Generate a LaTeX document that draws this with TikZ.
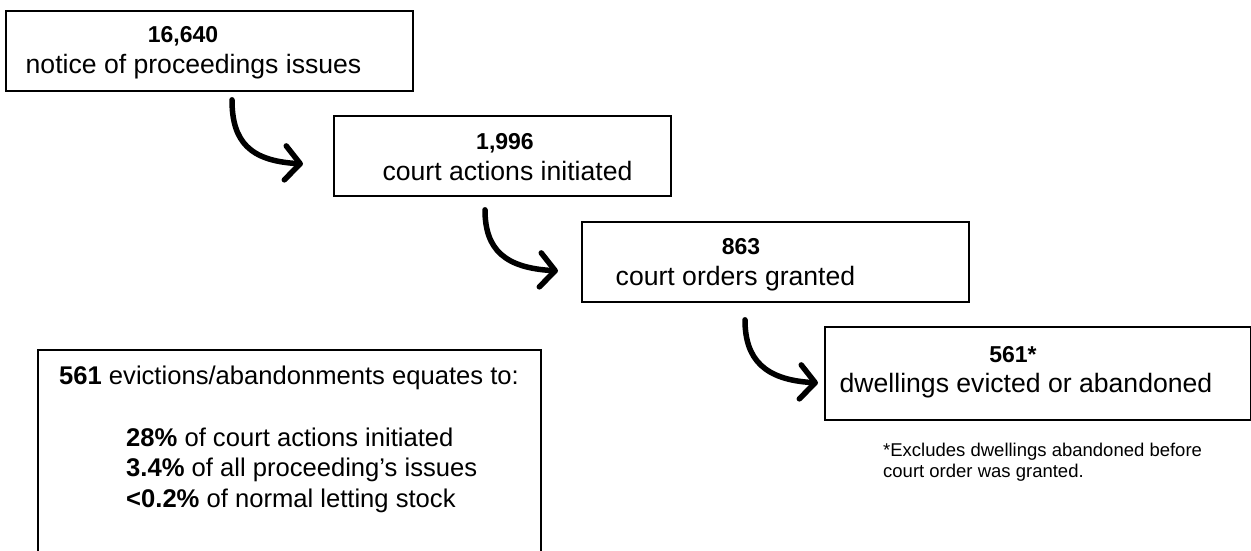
\documentclass[tikz,border=0pt]{standalone}
\usepackage{fontspec}
\setmainfont{Liberation Sans}
\usetikzlibrary{arrows.meta,calc}
\begin{document}
\begin{tikzpicture}[x=1pt,y=-1pt,
  box/.style={draw=black, line width=1.8pt, inner sep=0pt, anchor=north west},
  num/.style={anchor=base, inner sep=0pt, font=\fontsize{23}{27}\selectfont\bfseries},
  lbl/.style={anchor=base, inner sep=0pt, font=\fontsize{26.6}{30}\selectfont},
  sumtxt/.style={anchor=base west, inner sep=0pt, font=\fontsize{25.6}{30}\selectfont},
  note/.style={anchor=base west, inner sep=0pt, font=\fontsize{18.5}{21}\selectfont},
  flow/.style={line width=5.5pt, line cap=round, -{Straight Barb[length=15pt,width=34pt,round]}},
]
\useasboundingbox (0,0) rectangle (1251,551);
\clip (0,0) rectangle (1251,551);

% boxes
\node[box, minimum width=407pt, minimum height=80pt] (b1) at (5,10) {};
\node[box, minimum width=337pt, minimum height=80pt] (b2) at (333,115) {};
\node[box, minimum width=387pt, minimum height=80pt] (b3) at (581,221) {};
\node[box, minimum width=426pt, minimum height=93pt] (b4) at (824,326) {};
\node[box, minimum width=503pt, minimum height=250pt] (b5) at (37,349) {};

% box texts
\node[num] (n1) at (183,43) {16,640};
\node[lbl] (t1) at (193.5,74) {notice of proceedings issues};
\node[num] (n2) at (505,149.5) {1,996};
\node[lbl] (t2) at (507.5,180) {court actions initiated};
\node[num] (n3) at (741,254) {863};
\node[lbl] (t3) at (735.5,285) {court orders granted};
\node[num] (n4) at (1013,362) {561*};
\node[lbl] (t4) at (1026,392) {dwellings evicted or abandoned};

% footnote
\node[note] (fn1) at (883,456) {*Excludes dwellings abandoned before};
\node[note] (fn2) at (883,477) {court order was granted.};

% summary box texts
\node[sumtxt, anchor=base] (s1) at (289,384) {\textbf{561} evictions/abandonments equates to:};
\node[sumtxt] (s2) at (126,446) {\textbf{28\%} of court actions initiated};
\node[sumtxt] (s3) at (126,476) {\textbf{3.4\%} of all proceeding’s issues};
\node[sumtxt] (s4) at (126,507) {\textbf{<0.2\%} of normal letting stock};

% arrows
\draw[flow] ($(b1.south west)+(227,8)$) .. controls +(0,42) and +(-53,-3) .. ($(b2.west)+(-30,8)$);
\draw[flow] ($(b2.south west)+(152,13)$) .. controls +(0,40) and +(-53,-3) .. ($(b3.west)+(-23,9)$);
\draw[flow] ($(b3.south west)+(164,17)$) .. controls +(0,40) and +(-53,-3) .. ($(b4.west)+(-6,9.5)$);
\end{tikzpicture}
\end{document}
